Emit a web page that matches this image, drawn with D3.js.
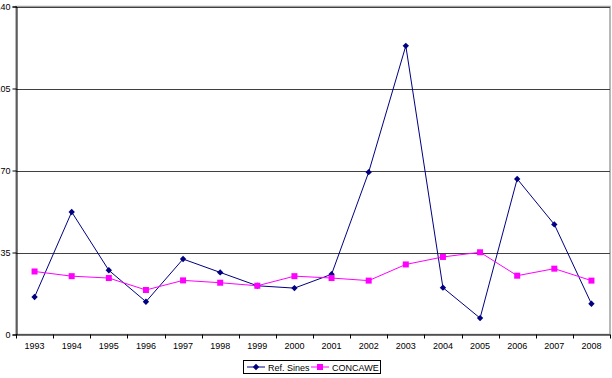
<!DOCTYPE html>
<html>
<head>
<meta charset="utf-8">
<script src="https://cdn.jsdelivr.net/npm/d3@7"></script>
<style>
  html, body { margin: 0; padding: 0; background: #fff; }
  svg { display: block; font-family: "Liberation Sans", Arial, sans-serif; }
</style>
</head>
<body>
<svg id="chart" width="612" height="378"></svg>
<script>
const years = ["1993","1994","1995","1996","1997","1998","1999","2000","2001","2002","2003","2004","2005","2006","2007","2008"];
const sinesValues = [16.0, 52.3, 27.4, 14.0, 32.2, 26.5, 20.8, 19.8, 25.7, 69.3, 123.2, 20.0, 7.0, 66.4, 47.0, 13.1];
const concaweValues = [26.9, 24.9, 24.1, 19.0, 23.1, 22.1, 20.8, 24.9, 24.1, 23.0, 29.9, 33.1, 35.1, 25.1, 28.1, 23.0];
const yTicks = [0, 35, 70, 105, 140];
const seriesNames = ["Ref. Sines", "CONCAWE"];

const svg = d3.select("#chart");
const pLeft = 16, pRight = 610, pTop = 6.5, pBottom = 334.5;
const FONT = "'Liberation Sans', Arial, sans-serif";

const x = d3.scaleBand().domain(years).range([pLeft, pRight]);
const y = d3.scaleLinear().domain([0, 140]).range([pBottom, pTop]);

// plot border (gray)
svg.append("rect")
  .attr("x", pLeft).attr("y", pTop)
  .attr("width", pRight - pLeft).attr("height", pBottom - pTop)
  .attr("fill", "none").attr("stroke", "#a0a0a0").attr("stroke-width", 1.5);

// gridlines
svg.append("g").selectAll("line").data(yTicks.filter(d => d > 0)).join("line")
  .attr("x1", pLeft).attr("x2", pRight)
  .attr("y1", d => Math.round(y(d)) + 0.5).attr("y2", d => Math.round(y(d)) + 0.5)
  .attr("stroke", "#404040").attr("stroke-width", 1);

// y axis
const yAxis = d3.axisLeft(y).tickValues(yTicks).tickSize(4).tickPadding(2);
const gy = svg.append("g").attr("transform", `translate(${pLeft + 0.5},0)`).call(yAxis);
gy.select(".domain").attr("stroke", "#000");
gy.selectAll(".tick line").attr("stroke", "#000");
gy.selectAll(".tick text").attr("font-size", 9).attr("fill", "#000").style("font-family", FONT);

// x axis
const xAxis = d3.axisBottom(x).tickSize(0).tickPadding(8);
const gx = svg.append("g").attr("transform", `translate(0,${pBottom})`).call(xAxis);
gx.select(".domain").attr("stroke", "#000").attr("d", `M${pLeft},0.5H${pRight}`);
gx.selectAll(".tick text").attr("font-size", 9).attr("fill", "#000").style("font-family", FONT);
// category boundary ticks
const bounds = years.map(d => x(d)).concat([pRight]);
gx.append("g").selectAll("line").data(bounds).join("line")
  .attr("x1", d => Math.round(d) + 0.5).attr("x2", d => Math.round(d) + 0.5)
  .attr("y1", 0).attr("y2", 4).attr("stroke", "#000");

const cx = d => x(d) + x.bandwidth() / 2;
const line = d3.line().x((d, i) => cx(years[i])).y(d => y(d));

// Sines
svg.append("path").datum(sinesValues).attr("d", line)
  .attr("fill", "none").attr("stroke", "#000080").attr("stroke-width", 1);
// CONCAWE
svg.append("path").datum(concaweValues).attr("d", line)
  .attr("fill", "none").attr("stroke", "#ff00ff").attr("stroke-width", 1);

const diamondPath = "M0,-3.2L3.2,0L0,3.2L-3.2,0Z";
svg.append("g").selectAll("path").data(sinesValues).join("path")
  .attr("d", diamondPath)
  .attr("transform", (d, i) => `translate(${cx(years[i])},${y(d)})`)
  .attr("fill", "#000080");

svg.append("g").selectAll("rect").data(concaweValues).join("rect")
  .attr("x", (d, i) => cx(years[i]) - 3).attr("y", d => y(d) - 3)
  .attr("width", 6).attr("height", 6).attr("fill", "#ff00ff");

// legend
const lg = svg.append("g").attr("transform", "translate(243,360)").style("font-family", FONT);
lg.append("rect").attr("x", 0.5).attr("y", 0.5).attr("width", 137).attr("height", 13)
  .attr("fill", "#fff").attr("stroke", "#000");
// Sines entry
lg.append("line").attr("x1", 4).attr("x2", 22).attr("y1", 7).attr("y2", 7).attr("stroke", "#000080");
lg.append("path").attr("d", diamondPath).attr("transform", "translate(13,7)").attr("fill", "#000080");
lg.append("text").attr("x", 25).attr("y", 10.5).attr("font-size", 9).text(seriesNames[0]);
// CONCAWE entry
lg.append("line").attr("x1", 68).attr("x2", 86).attr("y1", 7).attr("y2", 7).attr("stroke", "#ff00ff");
lg.append("rect").attr("x", 74).attr("y", 4).attr("width", 6).attr("height", 6).attr("fill", "#ff00ff");
lg.append("text").attr("x", 89).attr("y", 10.5).attr("font-size", 9).text(seriesNames[1]);
</script>
</body>
</html>
